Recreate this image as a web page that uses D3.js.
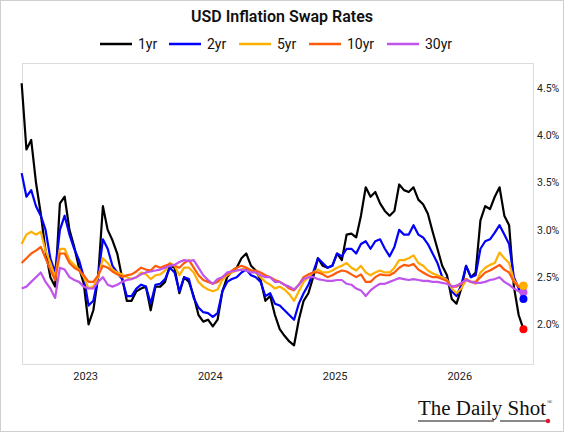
<!DOCTYPE html>
<html>
<head>
<meta charset="utf-8">
<script src="https://cdn.jsdelivr.net/npm/d3@7"></script>
<style>
  body { margin: 0; background: #fff; }
  text { font-family: Roboto, "Noto Sans", sans-serif; }
</style>
</head>
<body>
<script>
// sampled every 14 days starting from this date
var startDate = '2022-06-29', stepDays = 14

var seriesNames = ['1yr', '2yr', '5yr', '10yr', '30yr']

var oneYr = [4.55, 3.85, 3.95, 3.5, 3.17, 2.78, 2.5, 2.4, 3.28, 3.35, 3.0, 2.82, 2.6, 2.43, 2.0, 2.15, 2.5, 3.25,
  3.0, 2.89, 2.75, 2.5, 2.25, 2.25, 2.35, 2.38, 2.4, 2.15, 2.4, 2.4, 2.45, 2.62, 2.6, 2.33, 2.5, 2.45,
  2.3, 2.1, 2.03, 2.05, 1.98, 2.05, 2.35, 2.5, 2.56, 2.6, 2.7, 2.75, 2.62, 2.57, 2.47, 2.25, 2.3, 2.1,
  1.95, 1.88, 1.82, 1.78, 2.05, 2.25, 2.33, 2.5, 2.7, 2.62, 2.6, 2.62, 2.75, 2.68, 2.95, 2.96, 2.92, 3.15,
  3.45, 3.35, 3.4, 3.28, 3.2, 3.15, 3.2, 3.48, 3.42, 3.4, 3.45, 3.32, 3.27, 3.17, 2.98, 2.8, 2.62, 2.52,
  2.27, 2.22, 2.38, 2.62, 2.5, 2.55, 3.1, 3.25, 3.22, 3.35, 3.45, 3.15, 3.05, 2.4, 2.1, 1.95]

var twoYr = [3.6, 3.35, 3.42, 3.25, 3.15, 3.0, 2.7, 2.55, 3.0, 3.15, 2.95, 2.8, 2.68, 2.5, 2.2, 2.25, 2.5, 2.9,
  2.8, 2.62, 2.55, 2.48, 2.3, 2.3, 2.38, 2.42, 2.4, 2.22, 2.42, 2.43, 2.48, 2.6, 2.55, 2.35, 2.5, 2.48,
  2.28, 2.18, 2.13, 2.12, 2.08, 2.12, 2.35, 2.45, 2.48, 2.5, 2.55, 2.58, 2.52, 2.5, 2.45, 2.3, 2.33, 2.22,
  2.2, 2.15, 2.1, 2.05, 2.22, 2.33, 2.42, 2.55, 2.7, 2.65, 2.6, 2.62, 2.75, 2.72, 2.8, 2.8, 2.75, 2.85,
  2.88, 2.8, 2.88, 2.9, 2.8, 2.72, 2.82, 3.0, 2.95, 2.95, 3.05, 2.95, 2.92, 2.85, 2.75, 2.65, 2.5, 2.48,
  2.35, 2.3, 2.42, 2.62, 2.5, 2.52, 2.8, 2.88, 2.9, 2.97, 3.05, 2.95, 2.85, 2.5, 2.38, 2.27]

var fiveYr = [2.85, 2.95, 2.98, 2.95, 2.98, 2.78, 2.65, 2.5, 2.8, 2.8, 2.68, 2.63, 2.58, 2.5, 2.38, 2.4, 2.5, 2.7,
  2.65, 2.58, 2.55, 2.53, 2.5, 2.48, 2.5, 2.55, 2.53, 2.48, 2.52, 2.53, 2.57, 2.65, 2.62, 2.52, 2.6, 2.6,
  2.55, 2.45, 2.4, 2.37, 2.35, 2.37, 2.47, 2.52, 2.55, 2.57, 2.58, 2.6, 2.57, 2.55, 2.5, 2.45, 2.42, 2.38,
  2.4, 2.37, 2.32, 2.25, 2.35, 2.45, 2.5, 2.55, 2.58, 2.55, 2.55, 2.57, 2.6, 2.62, 2.65, 2.6, 2.57, 2.62,
  2.55, 2.52, 2.55, 2.57, 2.55, 2.55, 2.6, 2.68, 2.68, 2.7, 2.73, 2.65, 2.62, 2.57, 2.54, 2.52, 2.5, 2.47,
  2.38, 2.33, 2.38, 2.47, 2.45, 2.43, 2.55, 2.6, 2.63, 2.65, 2.76, 2.7, 2.65, 2.47, 2.4, 2.41]

var tenYr = [2.65, 2.7, 2.75, 2.78, 2.82, 2.7, 2.58, 2.47, 2.75, 2.75, 2.65, 2.6, 2.57, 2.52, 2.45, 2.45, 2.52, 2.62,
  2.6, 2.56, 2.53, 2.5, 2.52, 2.53, 2.56, 2.6, 2.58, 2.57, 2.62, 2.6, 2.62, 2.64, 2.62, 2.6, 2.65, 2.68,
  2.6, 2.52, 2.47, 2.45, 2.43, 2.45, 2.5, 2.53, 2.57, 2.6, 2.62, 2.6, 2.57, 2.57, 2.55, 2.52, 2.5, 2.47,
  2.45, 2.42, 2.38, 2.36, 2.42, 2.5, 2.53, 2.55, 2.55, 2.53, 2.5, 2.52, 2.55, 2.57, 2.56, 2.53, 2.5, 2.53,
  2.45, 2.45, 2.5, 2.53, 2.52, 2.52, 2.55, 2.6, 2.63, 2.62, 2.64, 2.58, 2.55, 2.52, 2.5, 2.5, 2.48, 2.46,
  2.4, 2.4, 2.43, 2.48, 2.45, 2.45, 2.5, 2.55, 2.57, 2.6, 2.63, 2.58, 2.55, 2.45, 2.4, 2.41]

var thirtyYr = [2.38, 2.4, 2.45, 2.5, 2.55, 2.45, 2.38, 2.28, 2.6, 2.58, 2.5, 2.47, 2.45, 2.4, 2.38, 2.38, 2.45, 2.5,
  2.42, 2.4, 2.42, 2.45, 2.47, 2.48, 2.5, 2.53, 2.55, 2.56, 2.57, 2.58, 2.6, 2.62, 2.63, 2.66, 2.68, 2.67,
  2.68, 2.6, 2.52, 2.47, 2.43, 2.48, 2.5, 2.55, 2.56, 2.57, 2.58, 2.57, 2.55, 2.55, 2.52, 2.5, 2.5, 2.45,
  2.45, 2.42, 2.4, 2.37, 2.42, 2.48, 2.5, 2.5, 2.48, 2.47, 2.46, 2.46, 2.47, 2.47, 2.43, 2.42, 2.38, 2.36,
  2.3, 2.36, 2.4, 2.43, 2.43, 2.45, 2.47, 2.49, 2.48, 2.47, 2.48, 2.47, 2.46, 2.46, 2.45, 2.45, 2.44, 2.43,
  2.4, 2.41, 2.44, 2.47, 2.45, 2.44, 2.44, 2.45, 2.47, 2.48, 2.5, 2.45, 2.42, 2.38, 2.35, 2.34]

var yTicks = [2.0, 2.5, 3.0, 3.5, 4.0, 4.5]
var yearTicks = ['2023', '2024', '2025', '2026']

var colors = ['#000000', '#0000ff', '#ffb000', '#ff5a0a', '#bf55ec']
var lastDotColors = ['#ff0000', '#0000ff', '#ffb000', '#ff5a0a', '#bf55ec']

var W = 564, H = 432
var plot = { left: 22, right: 533, top: 63, bottom: 364 }

var svg = d3.select('body').append('svg').attr('width', W).attr('height', H)

svg.append('rect')
  .attr('x', 0.5).attr('y', 0.5).attr('width', W - 1).attr('height', H - 1)
  .attr('fill', '#fff').attr('stroke', '#cfcfcf')

var parse = d3.timeParse('%Y-%m-%d')
var start = parse(startDate)
var dates = oneYr.map((d, i) => d3.timeDay.offset(start, i * stepDays))

var x = d3.scaleTime()
  .domain([parse('2022-06-30'), parse('2026-08-05')])
  .range([plot.left, plot.right])
var y = d3.scaleLinear()
  .domain([1.582, 4.764])
  .range([plot.bottom, plot.top])

// plot frame
svg.append('rect')
  .attr('x', plot.left + 0.5).attr('y', plot.top + 0.5)
  .attr('width', plot.right - plot.left).attr('height', plot.bottom - plot.top)
  .attr('fill', 'none').attr('stroke', '#dcdcdc')

// title
svg.append('text')
  .attr('x', W / 2).attr('y', 22)
  .attr('text-anchor', 'middle')
  .style('font-size', '16px').style('font-weight', 600).style('fill', '#111')
  .text('USD Inflation Swap Rates')

// legend
var legendX = [100, 169, 239, 309, 387]
var legend = svg.append('g').selectAll('g')
  .data(seriesNames)
  .enter().append('g')
  .attr('transform', (d, i) => 'translate(' + legendX[i] + ',44)')
legend.append('line')
  .attr('x1', 0).attr('x2', 32)
  .attr('stroke', (d, i) => colors[i]).attr('stroke-width', 2.5)
legend.append('text')
  .attr('x', 38).attr('dy', '0.35em')
  .style('font-size', '14px').style('fill', '#111')
  .text(d => d)

// axes
var yAxis = d3.axisRight(y)
  .tickValues(yTicks)
  .tickSize(0)
  .tickPadding(4)
  .tickFormat(d => d3.format('.1f')(d) + '%')
svg.append('g').attr('id', 'yAxisG')
  .attr('transform', 'translate(' + plot.right + ',0)')
  .call(yAxis)

var xAxis = d3.axisBottom(x)
  .tickValues(yearTicks.map(d => parse(d + '-01-01')))
  .tickSize(0)
  .tickPadding(8)
  .tickFormat(d3.timeFormat('%Y'))
svg.append('g').attr('id', 'xAxisG')
  .attr('transform', 'translate(0,' + plot.bottom + ')')
  .call(xAxis)

svg.selectAll('#xAxisG .domain, #yAxisG .domain').remove()
svg.selectAll('#xAxisG text')
  .style('font-size', '11px').style('fill', '#222')
  .style('font-family', 'Roboto, "Noto Sans", sans-serif')
svg.selectAll('#yAxisG text')
  .style('font-size', '10.5px').style('fill', '#222')
  .style('font-family', 'Roboto, "Noto Sans", sans-serif')

// series
var allSeries = [oneYr, twoYr, fiveYr, tenYr, thirtyYr]
var line = d3.line()
  .x((d, i) => x(dates[i]))
  .y(d => y(d))

var lines = svg.append('g')
lines.selectAll('path')
  .data(allSeries)
  .enter().append('path')
  .attr('d', d => line(d))
  .attr('fill', 'none')
  .attr('stroke', (d, i) => colors[i])
  .attr('stroke-width', 2.2)
  .attr('stroke-linejoin', 'round')

// last value dots, drawn from the back so the 1yr red dot sits on top
var lastIdx = oneYr.length - 1
svg.append('g').selectAll('circle')
  .data(allSeries.map((s, i) => ({ v: s[lastIdx], i: i })).reverse())
  .enter().append('circle')
  .attr('cx', x(dates[lastIdx]))
  .attr('cy', d => y(d.v))
  .attr('r', 4)
  .attr('fill', d => lastDotColors[d.i])

// logo
var logo = svg.append('g')
logo.append('text')
  .attr('x', 418).attr('y', 415)
  .attr('textLength', 128).attr('lengthAdjust', 'spacingAndGlyphs')
  .style('font-family', '"Liberation Serif", "DejaVu Serif", serif')
  .style('font-size', '20px').style('fill', '#111')
  .text('The Daily Shot')
logo.append('text')
  .attr('x', 547).attr('y', 404)
  .style('font-family', '"Liberation Serif", serif')
  .style('font-size', '7px').style('fill', '#111')
  .text('®')
logo.append('line')
  .attr('x1', 418).attr('x2', 494).attr('y1', 421).attr('y2', 421)
  .attr('stroke', '#111').attr('stroke-width', 1)
logo.append('line')
  .attr('x1', 500).attr('x2', 547).attr('y1', 421).attr('y2', 421)
  .attr('stroke', '#111').attr('stroke-width', 1)
logo.append('circle')
  .attr('cx', 548).attr('cy', 421).attr('r', 2.2).attr('fill', '#e8112d')
</script>
</body>
</html>
